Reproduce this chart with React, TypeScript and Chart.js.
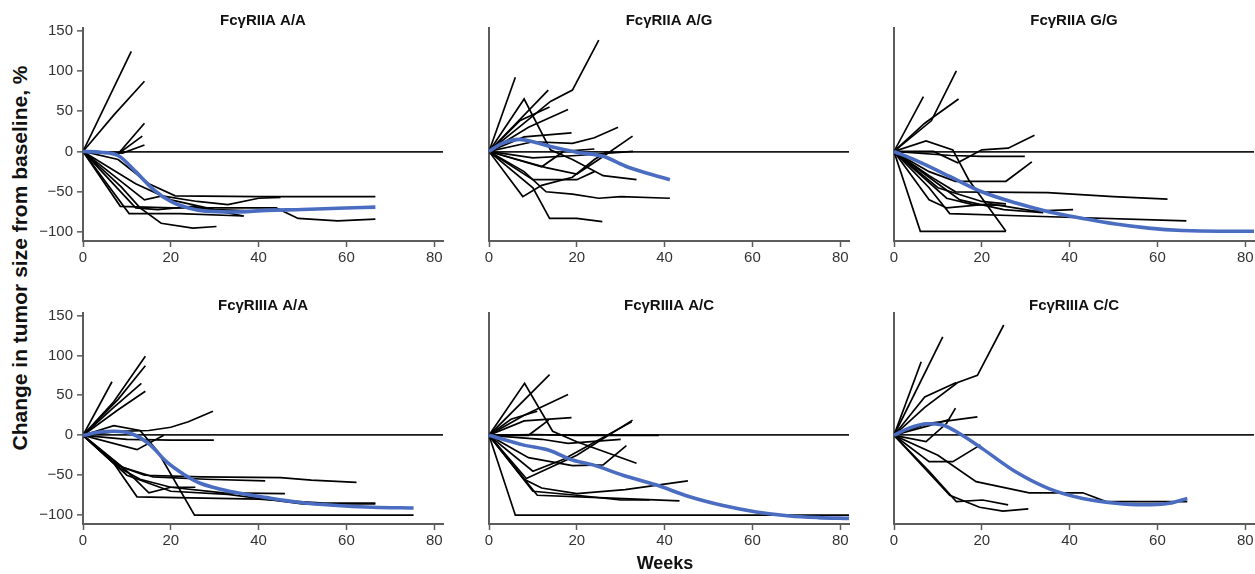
import React, { useEffect, useRef } from 'react';
import { Chart, registerables } from 'chart.js';

Chart.register(...registerables);

type Pt = [number, number];

const FONT = '"Liberation Sans", Arial, Helvetica, sans-serif';
const BLUE = '#4a6cc1';
const AXIS = '#5c5c5c';
const LINE = '#000000';

const X_TICKS = [0, 20, 40, 60, 80];
const Y_TICKS = [-100, -50, 0, 50, 100, 150];
const X_MIN = 0;
const X_MAX = 82;
const Y_MIN = -111;
const Y_MAX = 153;

const PANEL_TITLES = [
  'FcγRIIA A/A',
  'FcγRIIA A/G',
  'FcγRIIA G/G',
  'FcγRIIIA A/A',
  'FcγRIIIA A/C',
  'FcγRIIIA C/C',
];

// ---------- FcγRIIA A/A ----------
const iiaAA_patients: Pt[][] = [
  [[0, 0], [11, 124]],
  [[0, 0], [7, 45], [14, 87]],
  [[0, 0], [8, -3], [14, 35]],
  [[0, 0], [8, -3], [13.5, 19]],
  [[0, 0], [9, -2], [14, 8]],
  [[0, 0], [8.5, -68], [20, -70], [44, -70], [49, -83], [58, -86], [66.6, -84]],
  [[0, 0], [10.5, -77], [22, -77], [36.6, -80]],
  [[0, 0], [8, -10], [15, -40], [21, -55], [40, -56], [66.6, -56]],
  [[0, 0], [7, -30], [14, -60], [18, -55], [26, -62], [33, -66], [40, -58], [45, -57]],
  [[0, 0], [6, -35], [12, -70], [17, -72], [25, -68], [30, -73], [36.6, -80]],
  [[0, 0], [8.7, -44], [13, -70], [17.8, -89], [25, -95], [30.4, -93]],
  [[0, 0], [12, -40], [20, -60], [30, -72], [40, -74]],
];
const iiaAA_fitWeeks = [0, 4, 8, 12, 16, 20, 24, 28, 34, 42, 50, 58, 66.6];
const iiaAA_fitValues = [0, -1, -5, -25, -47, -62, -70, -74, -75, -73, -72, -70.5, -69];

// ---------- FcγRIIA A/G ----------
const iiaAG_patients: Pt[][] = [
  [[0, 0], [6, 92]],
  [[0, 0], [13.5, 76]],
  [[0, 0], [8, 35], [14, 62], [19, 76], [25, 138]],
  [[0, 0], [8, 65], [14, 2], [19, -10], [26, -30], [33.6, -35]],
  [[0, 0], [9, 30], [18, 52]],
  [[0, 0], [7, 38], [13.8, 55]],
  [[0, 0], [8, 18], [18.8, 23]],
  [[0, 0], [10, 12], [19, 10], [24, 17], [29.4, 30]],
  [[0, 0], [13, -20], [20, -28], [25, -10], [32.7, 19]],
  [[0, 0], [10, -8], [20, -5], [32.8, 0]],
  [[0, 0], [8, -25], [13, -50], [19, -53], [25, -58], [30, -56], [41.2, -58]],
  [[0, 0], [10, -45], [13.8, -83], [20, -83], [25.8, -87]],
  [[0, 0], [7.7, -56], [12, -42], [19, -32], [24, -10], [27, 0]],
  [[0, 0], [12, -19], [17, 0], [24, 3]],
  [[0, 0], [10, -35], [20, -35], [24, -25]],
];
const iiaAG_fitWeeks = [0, 3, 7, 10, 14, 20, 26, 31, 36, 41.2];
const iiaAG_fitValues = [0, 10, 15, 12, 6, -1, -6, -18, -27, -35];

// ---------- FcγRIIA G/G ----------
const iiaGG_patients: Pt[][] = [
  [[0, 0], [6.7, 68]],
  [[0, 0], [8.5, 38], [14.2, 100]],
  [[0, 0], [7, 35], [14.7, 65]],
  [[0, 0], [7.3, 13], [13.4, 2], [17, -35], [25.5, -99]],
  [[0, 0], [9, 0], [14.5, -14], [20, 2], [26, 4], [32, 20]],
  [[0, 0], [13, -5], [20, -6], [29.8, -6]],
  [[0, 0], [8, -25], [14, -37], [25.5, -37], [31.4, -13]],
  [[0, 0], [6, -99], [25.5, -99]],
  [[0, 0], [8, -30], [14, -50], [35, -51], [50, -56], [62.3, -59]],
  [[0, 0], [8, -45], [12.7, -77], [30, -80], [66.6, -86]],
  [[0, 0], [8, -60], [12, -70], [22, -65], [32, -74], [40.8, -72]],
  [[0, 0], [10, -45], [20, -62], [25.5, -65]],
  [[0, 0], [12, -58], [18, -66], [25.5, -67]],
  [[0, 0], [10, -40], [15, -60], [25, -72], [34, -76]],
];
const iiaGG_fitWeeks = [0, 5, 12.7, 20, 27.8, 35.4, 43, 50.5, 58, 65.7, 74, 82];
const iiaGG_fitValues = [0, -11, -31, -50, -64, -75, -83, -90, -95, -98, -99, -99];

// ---------- FcγRIIIA A/A ----------
const iiiaAA_patients: Pt[][] = [
  [[0, 0], [6.6, 67]],
  [[0, 0], [7, 42], [14.2, 99]],
  [[0, 0], [8, 45], [14.2, 87]],
  [[0, 0], [7, 35], [13.3, 65]],
  [[0, 0], [8, 32], [14.2, 55]],
  [[0, 0], [8, 5], [15, 6], [20, 10], [24, 17], [29.6, 30]],
  [[0, 0], [10, -5], [20, -6], [29.8, -6]],
  [[0, 0], [12.3, -18], [18.4, 0]],
  [[0, 0], [7, 12], [13, 6], [17, -20], [25.4, -100], [75.3, -100]],
  [[0, 0], [7, -35], [12.3, -77], [40, -80], [55, -85], [66.6, -85]],
  [[0, 0], [8, -38], [14, -50], [27, -52], [45, -53], [52, -56], [62.3, -59]],
  [[0, 0], [9, -40], [16, -52], [28, -55], [41.5, -57]],
  [[0, 0], [8, -40], [13, -55], [20, -65], [32, -72], [46, -73]],
  [[0, 0], [10, -45], [15, -72], [20, -65], [25.6, -65]],
  [[0, 0], [10, -50], [20, -70], [33, -74], [50, -86], [66.6, -86]],
];
const iiiaAA_fitWeeks = [0, 4, 7, 11.5, 15.3, 19, 23, 26.7, 34.3, 41.9, 49.5, 57, 66, 75.3];
const iiiaAA_fitValues = [0, 4, 5, 1, -12, -33, -49, -60, -71, -78, -84, -87.5, -90, -91];

// ---------- FcγRIIIA A/C ----------
const iiiaAC_patients: Pt[][] = [
  [[0, 0], [8.1, 65], [14.5, 5], [20, -8], [26, -20], [33.6, -35]],
  [[0, 0], [13.8, 76]],
  [[0, 0], [8, 25], [18, 51]],
  [[0, 0], [5, 20], [11, 30]],
  [[0, 0], [8, 18], [18.8, 22]],
  [[0, 0], [10, 1], [20, 0], [38.7, 0]],
  [[0, 0], [8.5, -54], [20, -25], [32.7, 19]],
  [[0, 0], [10, -45], [17, -30], [32.5, 17]],
  [[0, 0], [9, -28], [19, -38], [26, -37], [31.3, -13]],
  [[0, 0], [8, -55], [12, -66], [20, -73], [31, -68], [45.3, -57]],
  [[0, 0], [10, -70], [20, -75], [30, -81], [36.6, -81]],
  [[0, 0], [11, -75], [25, -78], [43.4, -82]],
  [[0, 0], [6, -100], [82, -100]],
  [[0, 0], [12, -5], [18, -10], [30, -5]],
  [[0, 0], [9, 0], [13.6, 19]],
];
const iiiaAC_fitWeeks = [0, 7.7, 13.8, 19, 23.7, 30.5, 38, 45.7, 53.3, 60.9, 68.5, 75, 82];
const iiiaAC_fitValues = [0, -12, -19, -31, -37, -50, -62, -77, -88, -96, -101, -103, -104];

// ---------- FcγRIIIA C/C ----------
const iiiaCC_patients: Pt[][] = [
  [[0, 0], [7, 35], [14.5, 66], [19, 75], [25, 138]],
  [[0, 0], [11.1, 123]],
  [[0, 0], [6.2, 92]],
  [[0, 0], [7, 48], [14.2, 66]],
  [[0, 0], [7.3, -8], [12, 15], [14, 34]],
  [[0, 0], [8, 15], [19, 23]],
  [[0, 0], [8, 12], [12.7, 20]],
  [[0, 0], [8, -33], [13.4, -33], [19.7, -12]],
  [[0, 0], [10, -25], [18.7, -58], [30.8, -72], [43, -72], [48.3, -83], [66.8, -83]],
  [[0, 0], [8, -45], [14.2, -83], [20.2, -81], [26, -87]],
  [[0, 0], [12.7, -75], [19.5, -90], [24.8, -95], [30.6, -92]],
];
const iiiaCC_fitWeeks = [0, 3, 7.5, 11, 15, 20.2, 27.8, 35.4, 43, 50.5, 56.6, 62.7, 66.8];
const iiiaCC_fitValues = [0, 8, 14.5, 13, 2, -17, -46, -67, -79, -85, -87, -85, -79];

interface PanelProps {
  title: string;
  patients: Pt[][];
  fitWeeks: number[];
  fitValues: number[];
  showY: boolean;
  left: number;
  top: number;
  height: number;
  padBottom: number;
}

const CANVAS_W = 420;
const Y_AXIS_W = 50;
const X_AXIS_H = 26;

function Panel(props: PanelProps) {
  const ref = useRef<HTMLCanvasElement>(null);
  useEffect(() => {
    if (!ref.current) return;
    const tickFont = { family: FONT, size: 15 };
    const datasets: any[] = [
      {
        data: props.fitWeeks.map((w, i) => ({ x: w, y: props.fitValues[i] })),
        borderColor: BLUE,
        borderWidth: 3.6,
        cubicInterpolationMode: 'monotone',
        pointRadius: 0,
        fill: false,
      },
      ...props.patients.map((p) => ({
        data: p.map(([x, y]) => ({ x, y })),
        borderColor: LINE,
        borderWidth: 1.7,
        pointRadius: 0,
        tension: 0,
        fill: false,
      })),
    ];
    const chart = new Chart(ref.current, {
      type: 'line',
      data: { datasets },
      options: {
        responsive: false,
        animation: false,
        devicePixelRatio: 1,
        events: [],
        layout: { padding: { left: 0, right: 10, top: 0, bottom: props.padBottom } },
        plugins: {
          legend: { display: false },
          tooltip: { enabled: false },
          title: {
            display: true,
            text: props.title,
            fullSize: false,
            color: '#111',
            font: { family: FONT, size: 15, weight: 'bold', lineHeight: 1 },
            padding: { top: 13, bottom: 0 },
          },
        },
        scales: {
          x: {
            type: 'linear',
            min: X_MIN,
            max: X_MAX,
            afterBuildTicks: (s: any) => {
              s.ticks = X_TICKS.map((v) => ({ value: v }));
            },
            afterFit: (s: any) => {
              s.height = X_AXIS_H;
            },
            grid: { drawOnChartArea: false, drawTicks: true, tickLength: 6, tickColor: AXIS, tickWidth: 1.5 },
            border: { color: AXIS, width: 2 },
            ticks: { font: tickFont, color: '#333', padding: 2, maxRotation: 0, autoSkip: false },
          },
          y: {
            type: 'linear',
            min: Y_MIN,
            max: Y_MAX,
            afterBuildTicks: (s: any) => {
              s.ticks = Y_TICKS.map((v) => ({ value: v }));
            },
            afterFit: (s: any) => {
              s.width = Y_AXIS_W;
            },
            grid: {
              drawOnChartArea: true,
              drawTicks: props.showY,
              tickLength: 6,
              tickColor: AXIS,
              tickWidth: 1.5,
              color: (ctx: any) => (ctx.tick && ctx.tick.value === 0 ? '#1a1a1a' : 'rgba(0,0,0,0)'),
              lineWidth: 1.7,
            },
            border: { color: AXIS, width: 2 },
            ticks: {
              display: props.showY,
              font: tickFont,
              color: '#333',
              padding: 4,
              autoSkip: false,
              callback: (v: any) => String(v).replace('-', '\u2212'),
            },
          },
        },
      } as any,
    });
    return () => chart.destroy();
  }, []);
  return (
    <canvas
      ref={ref}
      width={CANVAS_W}
      height={props.height}
      style={{ position: 'absolute', left: props.left, top: props.top, width: CANVAS_W, height: props.height }}
    />
  );
}

const PLOT_LEFTS = [83, 489, 894];
const ROW_TOPS = [0, 285];
const ROW_HEIGHTS = [270, 280];
const ROW_PAD_BOTTOM = [3, 15];

const PANEL_DATA = [
  { patients: iiaAA_patients, fitWeeks: iiaAA_fitWeeks, fitValues: iiaAA_fitValues },
  { patients: iiaAG_patients, fitWeeks: iiaAG_fitWeeks, fitValues: iiaAG_fitValues },
  { patients: iiaGG_patients, fitWeeks: iiaGG_fitWeeks, fitValues: iiaGG_fitValues },
  { patients: iiiaAA_patients, fitWeeks: iiiaAA_fitWeeks, fitValues: iiiaAA_fitValues },
  { patients: iiiaAC_patients, fitWeeks: iiiaAC_fitWeeks, fitValues: iiiaAC_fitValues },
  { patients: iiiaCC_patients, fitWeeks: iiiaCC_fitWeeks, fitValues: iiiaCC_fitValues },
];

export default function App() {
  return (
    <div
      style={{
        position: 'absolute',
        left: 0,
        top: 0,
        width: 1255,
        height: 574,
        overflow: 'hidden',
        background: '#ffffff',
        fontFamily: FONT,
      }}
    >
      {PANEL_DATA.map((d, i) => {
        const row = Math.floor(i / 3);
        const col = i % 3;
        return (
          <Panel
            key={i}
            title={PANEL_TITLES[i]}
            patients={d.patients}
            fitWeeks={d.fitWeeks}
            fitValues={d.fitValues}
            showY={col === 0}
            left={PLOT_LEFTS[col] - Y_AXIS_W}
            top={ROW_TOPS[row]}
            height={ROW_HEIGHTS[row]}
            padBottom={ROW_PAD_BOTTOM[row]}
          />
        );
      })}
      <div
        style={{
          position: 'absolute',
          left: 19,
          top: 258,
          transform: 'translate(-50%, -50%) rotate(-90deg)',
          whiteSpace: 'nowrap',
          fontWeight: 'bold',
          fontSize: 21,
          color: '#111',
          lineHeight: 1,
        }}
      >
        Change in tumor size from baseline, %
      </div>
      <div
        style={{
          position: 'absolute',
          left: 665,
          top: 563,
          transform: 'translate(-50%, -50%)',
          whiteSpace: 'nowrap',
          fontWeight: 'bold',
          fontSize: 18,
          color: '#111',
          lineHeight: 1,
        }}
      >
        Weeks
      </div>
    </div>
  );
}
